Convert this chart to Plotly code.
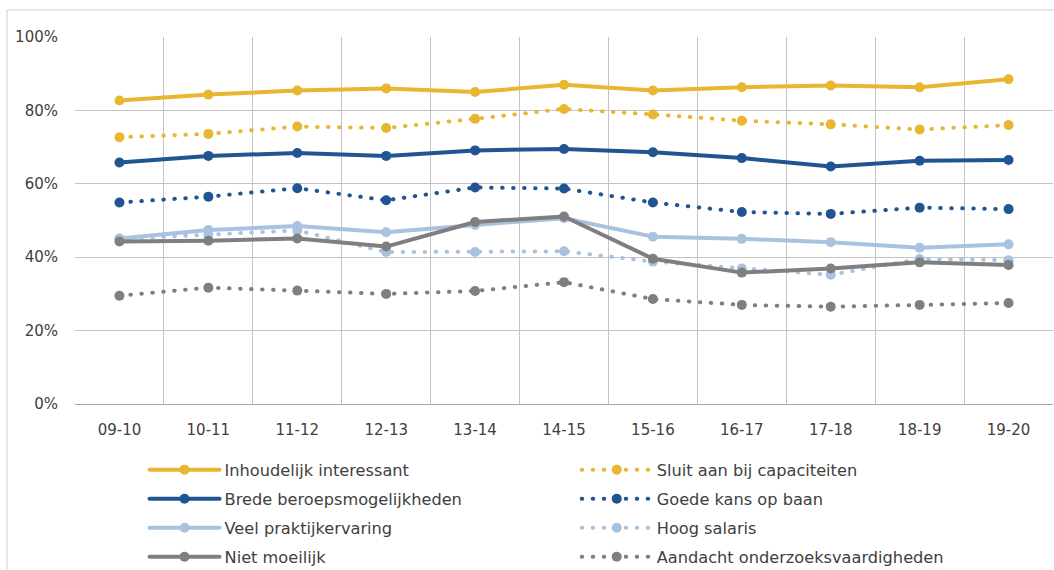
import plotly.graph_objects as go

years = ["09-10", "10-11", "11-12", "12-13", "13-14", "14-15", "15-16", "16-17", "17-18", "18-19", "19-20"]

inhoudelijk = [82.7, 84.3, 85.4, 86.0, 85.0, 87.0, 85.4, 86.3, 86.8, 86.3, 88.5]
sluit_aan = [72.7, 73.6, 75.6, 75.2, 77.7, 80.4, 78.9, 77.2, 76.2, 74.8, 76.0]
brede = [65.8, 67.6, 68.4, 67.6, 69.1, 69.5, 68.6, 67.0, 64.7, 66.3, 66.5]
goede_kans = [54.9, 56.5, 58.8, 55.5, 59.0, 58.7, 54.9, 52.3, 51.8, 53.5, 53.1]
praktijk = [45.1, 47.4, 48.5, 46.8, 48.8, 50.6, 45.6, 45.0, 44.1, 42.6, 43.5]
salaris = [45.0, 46.1, 47.3, 41.4, 41.4, 41.6, 38.8, 36.9, 35.2, 39.5, 39.2]
niet_moeilijk = [44.3, 44.5, 45.1, 42.9, 49.6, 51.1, 39.6, 35.8, 36.9, 38.6, 37.9]
onderzoek = [29.5, 31.7, 30.9, 30.0, 30.8, 33.2, 28.6, 27.0, 26.5, 27.0, 27.5]

y_ticks = [0, 20, 40, 60, 80, 100]
y_tick_labels = ["0%", "20%", "40%", "60%", "80%", "100%"]

YELLOW = "#E8B631"
DARK_BLUE = "#215592"
LIGHT_BLUE = "#A9C2E0"
GRAY = "#7F7F7F"

series = [
    ("Inhoudelijk interessant", inhoudelijk, YELLOW, "solid", "legend"),
    ("Sluit aan bij capaciteiten", sluit_aan, YELLOW, "dot", "legend2"),
    ("Brede beroepsmogelijkheden", brede, DARK_BLUE, "solid", "legend"),
    ("Goede kans op baan", goede_kans, DARK_BLUE, "dot", "legend2"),
    ("Veel praktijkervaring", praktijk, LIGHT_BLUE, "solid", "legend"),
    ("Hoog salaris", salaris, LIGHT_BLUE, "dot", "legend2"),
    ("Niet moeilijk", niet_moeilijk, GRAY, "solid", "legend"),
    ("Aandacht onderzoeksvaardigheden", onderzoek, GRAY, "dot", "legend2"),
]

# draw order: dotted first so solid lines are on top
order = [1, 3, 5, 7, 0, 2, 4, 6]

fig = go.Figure()
for i in order:
    name, vals, color, style, leg = series[i]
    fig.add_trace(go.Scatter(
        x=years, y=vals, name=name, mode="lines+markers",
        line=dict(color=color, width=4, dash=("solid" if style == "solid" else "0.5px,10.5px")),
        marker=dict(color=color, size=10),
        legend=leg, legendgroup=name, legendrank=i,
    ))

FONT = "DejaVu Sans"
TXT = "#404040"

fig.update_layout(
    width=1054, height=570,
    margin=dict(l=75, r=1, t=37, b=166, autoexpand=False),
    paper_bgcolor="white", plot_bgcolor="white",
    font=dict(family=FONT, size=15, color=TXT),
    showlegend=True,
    xaxis=dict(
        type="category", tickson="boundaries", range=[-0.5, 10.5],
        showgrid=True, gridcolor="#c4c4c4", gridwidth=1,
        showline=True, linecolor="#a6a6a6", linewidth=1,
        ticks="", tickfont=dict(family=FONT, size=15, color=TXT),
        ticklabelstandoff=12, fixedrange=True, automargin=False,
    ),
    yaxis=dict(
        range=[0, 100], tickvals=y_ticks, ticktext=y_tick_labels,
        showgrid=True, gridcolor="#c4c4c4", gridwidth=1, zeroline=False,
        showline=False, ticks="", tickfont=dict(family=FONT, size=15, color=TXT),
        ticklabelstandoff=16, fixedrange=True, automargin=False,
    ),
    legend=dict(
        orientation="v", x=0.0711, xanchor="left", y=-0.1325, yanchor="top",
        font=dict(family=FONT, size=16.2, color=TXT), itemwidth=70,
        tracegroupgap=5, bgcolor="rgba(0,0,0,0)", traceorder="grouped",
    ),
    legend2=dict(
        orientation="v", x=0.513, xanchor="left", y=-0.1325, yanchor="top",
        font=dict(family=FONT, size=16.2, color=TXT), itemwidth=70,
        tracegroupgap=5, bgcolor="rgba(0,0,0,0)", traceorder="grouped",
    ),
    shapes=[dict(
        type="rect", xref="paper", yref="paper",
        x0=-0.0695, x1=1.01, y0=-0.6, y1=1.0736,
        line=dict(color="#d0d0d0", width=1), fillcolor="rgba(0,0,0,0)", layer="below",
    )],
)

post = """
document.body.style.margin='0';
var el=document.getElementById('{plot_id}');
el.querySelectorAll('path.js-line').forEach(function(p){p.style.strokeLinecap='round';p.style.strokeLinejoin='round';});
"""

fig.write_html("out.html", post_script=post, config={"displayModeBar": False})
